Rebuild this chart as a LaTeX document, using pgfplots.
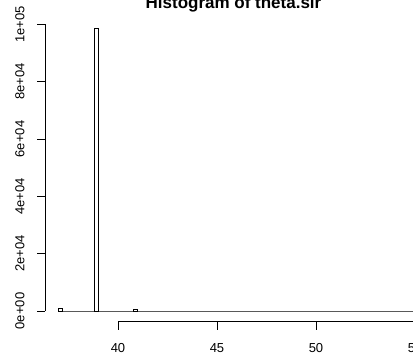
\documentclass[border=0pt]{standalone}
\usepackage{pgfplots}
\pgfplotsset{compat=1.18}
\usepackage{fontspec}
\setmainfont{Liberation Sans}
\begin{document}
\begin{tikzpicture}[lw/.style={line width=0.9pt}, tl/.style={font=\fontsize{13}{15}\selectfont, anchor=center}]
\useasboundingbox (0,0) rectangle (413pt,355pt);
\clip (0,0) rectangle (413pt,355pt);
\begin{axis}[
  at={(-0.8pt,29.665pt)}, anchor=south west,
  scale only axis, width=475.2pt, height=329.705pt,
  xmin=34, xmax=58, ymin=-5000, ymax=110000,
  hide axis, clip=false,
]
% histogram bins (left edge, count); zero runs merged
\addplot[ybar interval, fill=white, draw=black, line width=0.9pt] table {
x y
37.0 1000
37.2 0
38.8 98550
39.0 0
40.8 450
41.0 0
57.0 0
};
% x axis (R style)
\draw[lw] ([yshift=-10.5pt]axis cs:40,0) -- ([yshift=-10.5pt]axis cs:55,0);
\draw[lw] ([yshift=-10.5pt]axis cs:40,0) -- ([yshift=-19pt]axis cs:40,0);
\draw[lw] ([yshift=-10.5pt]axis cs:45,0) -- ([yshift=-19pt]axis cs:45,0);
\draw[lw] ([yshift=-10.5pt]axis cs:50,0) -- ([yshift=-19pt]axis cs:50,0);
\draw[lw] ([yshift=-10.5pt]axis cs:55,0) -- ([yshift=-19pt]axis cs:55,0);
\node[tl] at ([yshift=-37pt]axis cs:40,0) {40};
\node[tl] at ([yshift=-37pt]axis cs:45,0) {45};
\node[tl] at ([yshift=-37pt]axis cs:50,0) {50};
\node[tl] at ([yshift=-37pt]axis cs:55,0) {55};
% y axis (R style)
\draw[lw] ([xshift=-73pt]axis cs:40,0) -- ([xshift=-73pt]axis cs:40,100000);
\draw[lw] ([xshift=-73pt]axis cs:40,0) -- ([xshift=-81pt]axis cs:40,0);
\draw[lw] ([xshift=-73pt]axis cs:40,20000) -- ([xshift=-81pt]axis cs:40,20000);
\draw[lw] ([xshift=-73pt]axis cs:40,40000) -- ([xshift=-81pt]axis cs:40,40000);
\draw[lw] ([xshift=-73pt]axis cs:40,60000) -- ([xshift=-81pt]axis cs:40,60000);
\draw[lw] ([xshift=-73pt]axis cs:40,80000) -- ([xshift=-81pt]axis cs:40,80000);
\draw[lw] ([xshift=-73pt]axis cs:40,100000) -- ([xshift=-81pt]axis cs:40,100000);
\node[tl, rotate=90] at ([xshift=-98pt]axis cs:40,0) {0e+00};
\node[tl, rotate=90] at ([xshift=-98pt]axis cs:40,20000) {2e+04};
\node[tl, rotate=90] at ([xshift=-98pt]axis cs:40,40000) {4e+04};
\node[tl, rotate=90] at ([xshift=-98pt]axis cs:40,60000) {6e+04};
\node[tl, rotate=90] at ([xshift=-98pt]axis cs:40,80000) {8e+04};
\node[tl, rotate=90] at ([xshift=-98pt]axis cs:40,100000) {1e+05};
\end{axis}
\node[anchor=base, font=\fontsize{17}{20}\selectfont\bfseries, inner sep=0pt] at (233.5pt,346.7pt) {Histogram of theta.sir};
\end{tikzpicture}
\end{document}
